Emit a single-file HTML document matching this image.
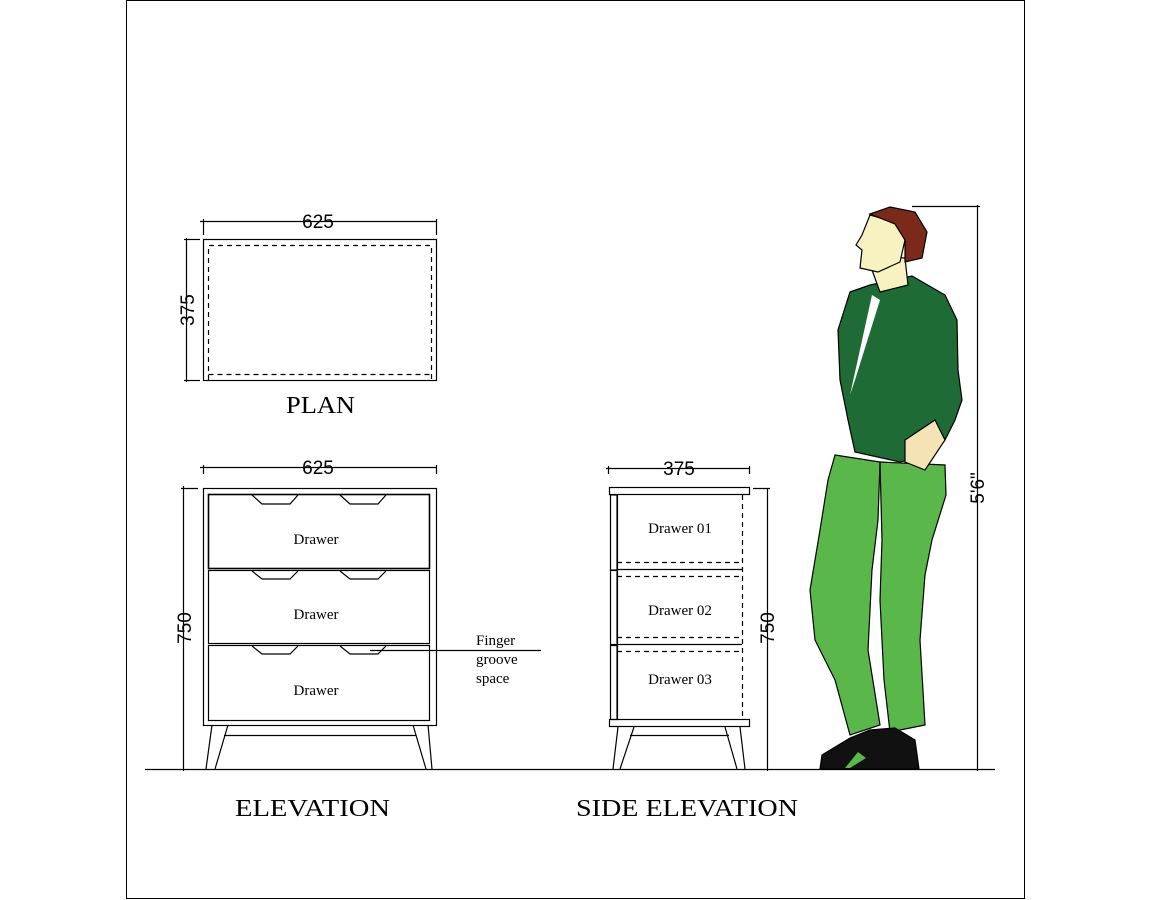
<!DOCTYPE html>
<html><head><meta charset="utf-8"><style>
html,body{margin:0;padding:0;background:#fff}
svg{display:block}
.s{font-family:"Liberation Serif",serif}
.a{font-family:"Liberation Sans",sans-serif}
</style></head><body>
<svg width="1152" height="900" viewBox="0 0 1152 900" xmlns="http://www.w3.org/2000/svg">
<rect x="126.5" y="0.5" width="898" height="898" fill="#fff" stroke="#000" stroke-width="1"/>
<g stroke="#000" stroke-width="1.2" fill="none">
<line x1="145" y1="769.5" x2="995" y2="769.5"/>
<!-- PLAN -->
<rect x="203.5" y="239.5" width="233" height="141"/>
<path d="M208.5 380 V245.5 H431.5 V380" stroke-dasharray="5,4"/>
<line x1="208.5" y1="374.5" x2="431.5" y2="374.5" stroke-dasharray="5,4"/>
<line x1="200" y1="221.5" x2="437" y2="221.5"/>
<line x1="203.5" y1="219" x2="203.5" y2="235"/><line x1="436.5" y1="219" x2="436.5" y2="235"/>
<line x1="186.5" y1="238" x2="186.5" y2="382"/>
<line x1="184" y1="239.5" x2="200" y2="239.5"/><line x1="184" y1="380.5" x2="200" y2="380.5"/>
<!-- ELEVATION -->
<line x1="200" y1="467.5" x2="437" y2="467.5"/>
<line x1="203.5" y1="465" x2="203.5" y2="474"/><line x1="436.5" y1="465" x2="436.5" y2="474"/>
<line x1="183.5" y1="486" x2="183.5" y2="771"/><line x1="181" y1="488.5" x2="198" y2="488.5"/>
<rect x="203.5" y="488.5" width="233" height="237"/>
<rect x="208.5" y="494.5" width="221" height="74" stroke-width="1.6"/>
<rect x="208.5" y="570.5" width="221" height="73"/>
<rect x="208.5" y="645.5" width="221" height="75"/>
<path d="M252 495 L262 504 H290 L298 495 M340 495 L350 504 H378 L386 495"/>
<path d="M252 571 L262 579 H290 L298 571 M340 571 L350 579 H378 L386 571"/>
<path d="M252 646 L262 654 H290 L298 646 M340 646 L350 654 H378 L386 646"/>
<path d="M212 725 L206 769 M228 725 L215 769 M413 725 L426 769 M428 725 L432 769 M224 735.5 H416"/>
<line x1="370" y1="650.5" x2="541" y2="650.5"/>
<!-- SIDE -->
<line x1="606" y1="468.5" x2="750" y2="468.5"/>
<line x1="608.5" y1="466" x2="608.5" y2="474"/><line x1="749.5" y1="466" x2="749.5" y2="474"/>
<rect x="609.5" y="487.5" width="140" height="7"/>
<rect x="610.5" y="495" width="7" height="75"/><rect x="610.5" y="570.5" width="7" height="74"/><rect x="610.5" y="645.5" width="7" height="74"/>
<line x1="617" y1="494.5" x2="617" y2="720"/>
<line x1="617" y1="569.5" x2="742" y2="569.5"/><line x1="617" y1="644.5" x2="742" y2="644.5"/>
<g stroke-dasharray="5,4">
<line x1="742.5" y1="495" x2="742.5" y2="719"/>
<line x1="617" y1="562.5" x2="742" y2="562.5"/>
<line x1="617" y1="576.5" x2="742" y2="576.5"/>
<line x1="617" y1="637.5" x2="742" y2="637.5"/>
<line x1="617" y1="651.5" x2="742" y2="651.5"/>
</g>
<rect x="609.5" y="719.5" width="140" height="7"/>
<path d="M618 727 L613 769 M634 727 L620 769 M725 727 L737 769 M740 727 L745 769 M630 735.5 H729"/>
<line x1="767.5" y1="488" x2="767.5" y2="771"/><line x1="753" y1="488.5" x2="770" y2="488.5"/>
<line x1="977.5" y1="205" x2="977.5" y2="771"/><line x1="912" y1="206.5" x2="980" y2="206.5"/>
</g>
<!-- person -->
<g stroke="#000" stroke-width="1.2">
<path d="M835 455 L880 462 L878 520 L872 570 L868 650 L880 725 L850 735 L835 680 L815 640 L810 590 L820 530 L828 480 Z" fill="#5ab84a"/>
<path d="M880 462 L945 465 L946 495 L932 540 L925 575 L920 640 L925 725 L890 732 L884 680 L880 600 L882 540 Z" fill="#5ab84a"/>
<path d="M850 292 L870 285 L912 276 L945 295 L957 320 L958 370 L962 400 L955 420 L945 440 L932 455 L900 462 L855 452 L848 420 L840 380 L838 330 Z" fill="#1f6b35"/>
<path d="M905 440 L935 420 L945 440 L925 470 L905 462 Z" fill="#f3e3b5"/>
<path d="M880 256 L905 258 L908 285 L880 292 L872 270 Z" fill="#f7f2c0"/>
<path d="M870 215 L862 235 L856 245 L862 250 L860 268 L878 272 L900 262 L905 240 L895 222 Z" fill="#f7f2c0"/>
<path d="M870 214 L890 207 L915 212 L927 232 L922 258 L905 262 L905 240 L895 224 Z" fill="#7b2a1a"/>
<path d="M822 755 L850 738 L870 730 L895 728 L915 740 L919 769 L820 769 Z" fill="#111"/>
<path d="M845 768 L858 752 L866 758 L850 768 Z" fill="#5ab84a" stroke="none"/>
</g>
<path d="M872 295 L880 300 L855 380 L850 395 Z" fill="#fff"/>
<g class="a" font-size="19" fill="#000">
<text x="318" y="228" text-anchor="middle">625</text>
<text x="318" y="474" text-anchor="middle">625</text>
<text x="679" y="475" text-anchor="middle">375</text>
<text transform="translate(194,310) rotate(-90)" text-anchor="middle">375</text>
<text transform="translate(191,628) rotate(-90)" text-anchor="middle">750</text>
<text transform="translate(774,628) rotate(-90)" text-anchor="middle">750</text>
<text transform="translate(984,488) rotate(-90)" text-anchor="middle">5'6"</text>
</g>
<g class="s" fill="#000">
<text x="286" y="413" font-size="24" textLength="69" lengthAdjust="spacingAndGlyphs">PLAN</text>
<text x="235" y="816" font-size="24" textLength="155" lengthAdjust="spacingAndGlyphs">ELEVATION</text>
<text x="576" y="816" font-size="24" textLength="222" lengthAdjust="spacingAndGlyphs">SIDE ELEVATION</text>
<g font-size="15" text-anchor="middle">
<text x="316" y="544">Drawer</text>
<text x="316" y="619">Drawer</text>
<text x="316" y="695">Drawer</text>
<text x="680" y="533">Drawer 01</text>
<text x="680" y="615">Drawer 02</text>
<text x="680" y="684">Drawer 03</text>
</g>
<g font-size="15">
<text x="476" y="645">Finger</text>
<text x="476" y="664">groove</text>
<text x="476" y="683">space</text>
</g>
</g>
</svg>
</body></html>
